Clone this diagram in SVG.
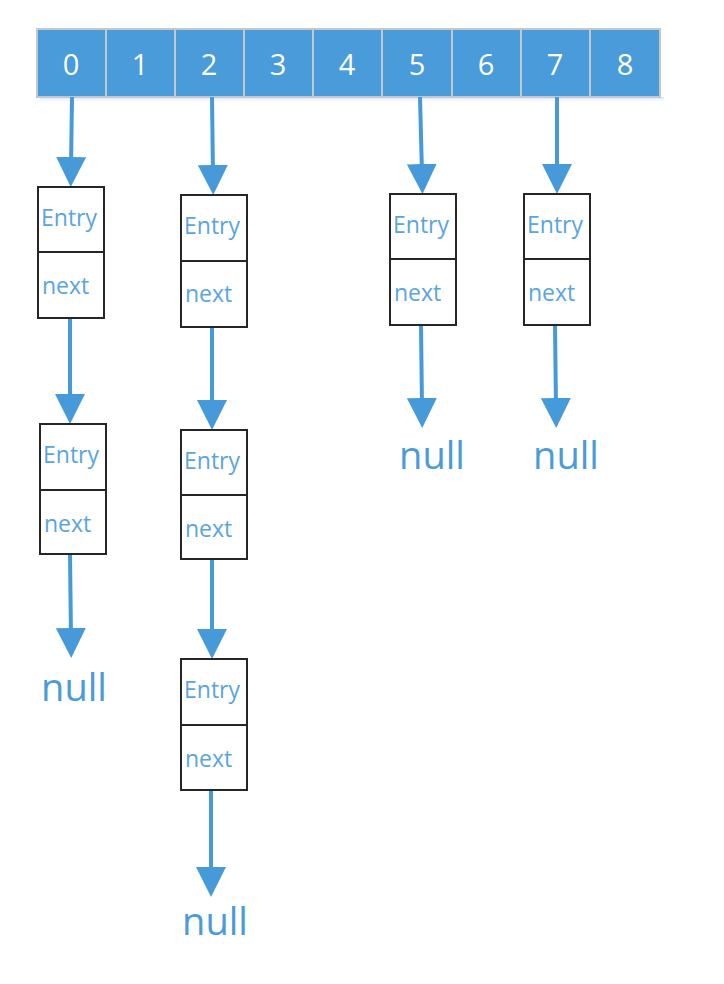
<svg xmlns="http://www.w3.org/2000/svg" width="724" height="984" viewBox="0 0 724 984">
<style>
.cell{fill:#4A9BDA;stroke:#C4C8CC;stroke-width:2}
.idx{font-family:"Open Sans","Liberation Sans",sans-serif;font-size:29px;fill:#FFFFFF;text-anchor:middle}
.box{fill:#FFFFFF;stroke:#262626;stroke-width:2}
.lbl{font-family:"Open Sans","Liberation Sans",sans-serif;font-size:23px;fill:#5AA5E0}
.nul{font-family:"Open Sans","Liberation Sans",sans-serif;font-size:38px;fill:#4A9BDA;text-anchor:middle}
.arr{stroke:#479ADA;stroke-width:4;fill:none;marker-end:url(#ah)}
</style>
<defs>
<marker id="ah" markerUnits="userSpaceOnUse" markerWidth="30" markerHeight="30" refX="10" refY="15" orient="auto"><path d="M0,0 L30,15 L0,30 z" fill="#479ADA"/></marker>
<linearGradient id="sh" x1="0" y1="0" x2="0" y2="1"><stop offset="0" stop-color="#A9CBEA" stop-opacity="0.6"/><stop offset="1" stop-color="#FFFFFF" stop-opacity="0"/></linearGradient>
</defs>
<rect width="724" height="984" fill="#FFFFFF"/>
<rect x="40" y="97" width="624" height="6" fill="url(#sh)"/>
<g id="array">
<g id="c0"><rect class="cell" x="37" y="29" width="69" height="68"/><text class="idx" x="71" y="75">0</text></g>
<g id="c1"><rect class="cell" x="106" y="29" width="69" height="68"/><text class="idx" x="140" y="75">1</text></g>
<g id="c2"><rect class="cell" x="175" y="29" width="69" height="68"/><text class="idx" x="209" y="75">2</text></g>
<g id="c3"><rect class="cell" x="244" y="29" width="69" height="68"/><text class="idx" x="278" y="75">3</text></g>
<g id="c4"><rect class="cell" x="313" y="29" width="69" height="68"/><text class="idx" x="347" y="75">4</text></g>
<g id="c5"><rect class="cell" x="382" y="29" width="70" height="68"/><text class="idx" x="417" y="75">5</text></g>
<g id="c6"><rect class="cell" x="452" y="29" width="69" height="68"/><text class="idx" x="486" y="75">6</text></g>
<g id="c7"><rect class="cell" x="521" y="29" width="69" height="68"/><text class="idx" x="555" y="75">7</text></g>
<g id="c8"><rect class="cell" x="590" y="29" width="70" height="68"/><text class="idx" x="625" y="75">8</text></g>
</g>
<g id="connectors">
<line class="arr" x1="72" y1="97" x2="71" y2="167"/>
<line class="arr" x1="70" y1="318" x2="70" y2="404"/>
<line class="arr" x1="70" y1="554" x2="71" y2="638"/>
<line class="arr" x1="212" y1="97" x2="213" y2="175"/>
<line class="arr" x1="212" y1="327" x2="212" y2="410"/>
<line class="arr" x1="212" y1="559" x2="212" y2="639"/>
<line class="arr" x1="211" y1="790" x2="211" y2="877"/>
<line class="arr" x1="420" y1="97" x2="422" y2="174"/>
<line class="arr" x1="421" y1="325" x2="422" y2="408"/>
<line class="arr" x1="557" y1="97" x2="557" y2="174"/>
<line class="arr" x1="555" y1="325" x2="556" y2="408"/>
</g>
<g id="n0a"><rect class="box" x="38" y="187" width="66" height="131"/><line class="box" x1="38" y1="252" x2="104" y2="252"/><text class="lbl" x="41" y="226">Entry</text><text class="lbl" x="42" y="294">next</text></g>
<g id="n0b"><rect class="box" x="40" y="424" width="66" height="130"/><line class="box" x1="40" y1="490" x2="106" y2="490"/><text class="lbl" x="43" y="463">Entry</text><text class="lbl" x="44" y="532">next</text></g>
<g id="n2a"><rect class="box" x="181" y="195" width="66" height="132"/><line class="box" x1="181" y1="261" x2="247" y2="261"/><text class="lbl" x="184" y="234">Entry</text><text class="lbl" x="185" y="302">next</text></g>
<g id="n2b"><rect class="box" x="181" y="430" width="66" height="129"/><line class="box" x1="181" y1="495" x2="247" y2="495"/><text class="lbl" x="184" y="469">Entry</text><text class="lbl" x="185" y="537">next</text></g>
<g id="n2c"><rect class="box" x="181" y="659" width="66" height="131"/><line class="box" x1="181" y1="725" x2="247" y2="725"/><text class="lbl" x="184" y="698">Entry</text><text class="lbl" x="185" y="767">next</text></g>
<g id="n5"><rect class="box" x="390" y="194" width="66" height="131"/><line class="box" x1="390" y1="259" x2="456" y2="259"/><text class="lbl" x="393" y="233">Entry</text><text class="lbl" x="394" y="301">next</text></g>
<g id="n7"><rect class="box" x="524" y="194" width="66" height="131"/><line class="box" x1="524" y1="259" x2="590" y2="259"/><text class="lbl" x="527" y="233">Entry</text><text class="lbl" x="528" y="301">next</text></g>
<g id="null0"><text class="nul" x="74" y="701">null</text></g>
<g id="null2"><text class="nul" x="215" y="935">null</text></g>
<g id="null5"><text class="nul" x="432" y="469">null</text></g>
<g id="null7"><text class="nul" x="566" y="469">null</text></g>
</svg>
